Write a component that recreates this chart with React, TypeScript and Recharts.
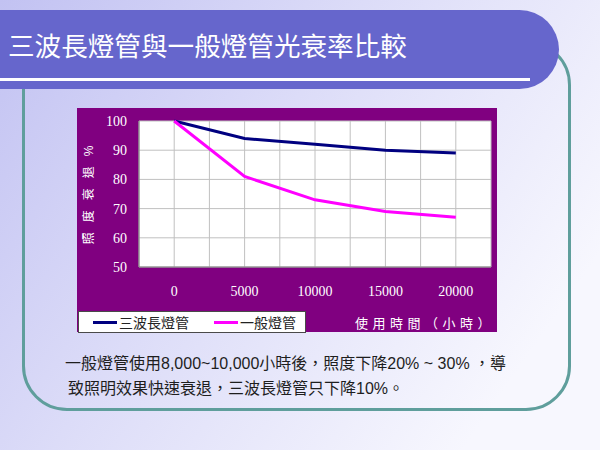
import React from 'react';
import { LineChart, Line, XAxis, YAxis, CartesianGrid, Legend, Label } from 'recharts';

// usage hours and relative brightness (%)
const hours = [0, 5000, 10000, 15000, 20000];
const triBand = [100, 94, 92, 90, 89];
const normalTube = [100, 81, 73, 69, 67];
const seriesNames = ['三波長燈管', '一般燈管'];

const xGridTicks = [-2500, 0, 2500, 5000, 7500, 10000, 12500, 15000, 17500, 20000, 22500];
const xLabelTicks = [0, 5000, 10000, 15000, 20000];
const yTicks = [50, 60, 70, 80, 90, 100];

const title = '三波長燈管與一般燈管光衰率比較';
const yTitle = '照度衰退%';
const xTitle = '使用時間（小時）';
const note1 = '一般燈管使用8,000~10,000小時後，照度下降20% ~ 30% ，導';
const note2 = '致照明效果快速衰退，三波長燈管只下降10%。';

const data = hours.map((h, i) => ({ hours: h, tri: triBand[i], normal: normalTube[i] }));

const cjk = '"Liberation Sans", "Noto Sans CJK TC", sans-serif';
const serif = '"Liberation Serif", "Noto Sans CJK TC", serif';

const renderLegend = (props: any) => {
  const items = [...props.payload].sort(
    (a: any, b: any) => seriesNames.indexOf(a.value) - seriesNames.indexOf(b.value)
  );
  return (
    <div
      style={{
        boxSizing: 'border-box',
        width: '100%',
        height: '100%',
        background: '#fff',
        border: '1px solid #4a4a4a',
        display: 'flex',
        alignItems: 'center',
        paddingLeft: 14,
        gap: 25,
        fontFamily: cjk,
        fontSize: 14,
        color: '#222',
      }}
    >
      {items.map((p: any) => (
        <span key={p.value} style={{ display: 'flex', alignItems: 'center' }}>
          <span style={{ display: 'inline-block', width: 24, height: 3, background: p.color, marginRight: 2 }} />
          {p.value}
        </span>
      ))}
    </div>
  );
};

export default function App() {
  return (
    <div
      style={{
        position: 'absolute',
        left: 0,
        top: 0,
        width: 600,
        height: 450,
        overflow: 'hidden',
        background: 'linear-gradient(125deg, #c2c2f2 0%, #dcdcf8 40%, #f7f7fe 85%)',
      }}
    >
      {/* teal frame */}
      <div
        style={{
          position: 'absolute',
          boxSizing: 'border-box',
          left: 22,
          top: 40,
          width: 549,
          height: 371,
          border: '3px solid #5f9e9c',
          borderRadius: 45,
        }}
      />
      {/* title bar */}
      <div
        style={{
          position: 'absolute',
          left: 0,
          top: 10,
          width: 559,
          height: 79,
          background: '#6666cc',
          borderRadius: '0 40px 40px 0',
        }}
      />
      <div style={{ position: 'absolute', left: 0, top: 78, width: 530, height: 3, background: '#fff' }} />
      <div
        style={{
          position: 'absolute',
          left: 8,
          top: 31,
          fontFamily: '"Noto Sans CJK TC", sans-serif',
          fontSize: 26.6,
          lineHeight: '28px',
          color: '#fff',
          whiteSpace: 'nowrap',
        }}
      >
        {title}
      </div>

      <div style={{ position: 'absolute', left: 77, top: 108 }}>
        <LineChart
          width={420}
          height={224}
          data={data}
          margin={{ top: 13, right: 6, left: 0, bottom: 0 }}
          style={{ background: '#800080' }}
        >
          <CartesianGrid stroke="#c0c0c0" fill="#fff" fillOpacity={1} />
          <XAxis
            dataKey="hours"
            type="number"
            domain={[-2500, 22500]}
            ticks={xGridTicks}
            interval={0}
            height={65}
            tickSize={0}
            tickMargin={19}
            axisLine={{ stroke: '#808080' }}
            tickLine={false}
            tick={{ fill: '#fff', fontSize: 14, fontFamily: serif }}
            tickFormatter={(v: number) => (xLabelTicks.includes(v) ? String(v) : '')}
          >
            <Label
              content={({ viewBox }: any) => (
                <text
                  x={viewBox.x + viewBox.width + 4}
                  y={viewBox.y + 61}
                  textAnchor="end"
                  fill="#fff"
                  fontSize={13}
                  letterSpacing={4.5}
                  fontFamily={cjk}
                >
                  {xTitle}
                </text>
              )}
            />
          </XAxis>
          <YAxis
            domain={[50, 100]}
            ticks={yTicks}
            interval={0}
            width={62}
            tickSize={0}
            tickMargin={12}
            axisLine={{ stroke: '#808080' }}
            tickLine={false}
            tick={{ fill: '#fff', fontSize: 14, fontFamily: serif }}
          >
            <Label
              content={({ viewBox }: any) => {
                const cx = viewBox.x + 12;
                const cy = viewBox.y + viewBox.height / 2 + 1;
                return (
                  <text
                    x={cx + 5}
                    y={cy}
                    dy={4}
                    textAnchor="middle"
                    fill="#fff"
                    fontSize={12}
                    letterSpacing={10}
                    fontFamily={cjk}
                    transform={`rotate(-90 ${cx} ${cy})`}
                  >
                    {yTitle}
                  </text>
                );
              }}
            />
          </YAxis>
          <Legend
            layout="horizontal"
            verticalAlign="middle"
            content={renderLegend}
            wrapperStyle={{ left: 1, top: 203, width: 228, height: 22 }}
          />
          <Line
            type="linear"
            dataKey="tri"
            name={seriesNames[0]}
            stroke="#000080"
            strokeWidth={3}
            dot={false}
            isAnimationActive={false}
          />
          <Line
            type="linear"
            dataKey="normal"
            name={seriesNames[1]}
            stroke="#ff00ff"
            strokeWidth={3}
            dot={false}
            isAnimationActive={false}
          />
        </LineChart>
      </div>

      <div
        style={{
          position: 'absolute',
          left: 65,
          top: 353,
          fontFamily: cjk,
          fontSize: 16,
          lineHeight: '22px',
          color: '#1e1e1e',
          whiteSpace: 'pre',
        }}
      >
        {note1}
      </div>
      <div
        style={{
          position: 'absolute',
          left: 68,
          top: 378,
          fontFamily: cjk,
          fontSize: 16,
          lineHeight: '22px',
          color: '#1e1e1e',
          whiteSpace: 'pre',
        }}
      >
        {note2}
      </div>
    </div>
  );
}
